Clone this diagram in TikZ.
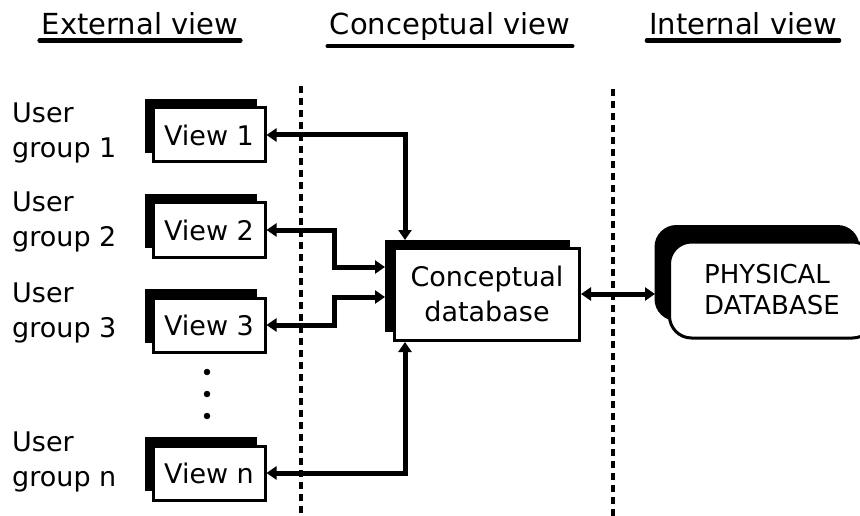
\documentclass[tikz,border=0pt]{standalone}
\usepackage{fontspec}
\setmainfont{DejaVu Sans}
\usetikzlibrary{arrows.meta,shadows}

\tikzset{
    viewbox/.style={draw, line width=3pt, fill=white, inner sep=0pt,
        minimum width=112pt, minimum height=54pt,
        font=\fontsize{27}{34}\selectfont,
        general shadow={fill=black, shadow xshift=-8pt, shadow yshift=9pt}},
    conbox/.style={draw, line width=3pt, fill=white, inner sep=0pt,
        minimum width=185pt, minimum height=92pt, align=center,
        font=\fontsize{27}{35}\selectfont,
        general shadow={fill=black, shadow xshift=-10pt, shadow yshift=8pt}},
    physbox/.style={draw, line width=3pt, fill=white, inner sep=0pt,
        rounded corners=22pt, minimum width=205pt, minimum height=96pt,
        align=left, font=\fontsize{26}{31}\selectfont,
        general shadow={fill=black, shadow xshift=-15pt, shadow yshift=17pt}},
    grouplabel/.style={anchor=west, inner sep=0pt, align=left,
        font=\fontsize{27}{35}\selectfont},
    heading/.style={anchor=base, inner xsep=2pt, inner ysep=5pt,
        font=\fontsize{29}{34}\selectfont},
    uline/.style={line width=4.5pt, line cap=round},
    divider/.style={line width=3.5pt, dash pattern=on 7pt off 5pt},
    conn/.style={line width=5pt, >={Triangle[length=10pt,width=13pt]}, <->}
}

\begin{document}
\begin{tikzpicture}[x=1pt, y=-1pt]
        \fill[white] (0,0) rectangle (860,516);
        \useasboundingbox (0,0) rectangle (860,516);

        % headings
        \node[heading] (hext) at (140,35) {External view};
        \node[heading] (hcon) at (450,35) {Conceptual view};
        \node[heading] (hint) at (743,35) {Internal view};
        \draw[uline] (hext.south west) -- (hext.south east);
        \draw[uline] (hcon.south west) -- (hcon.south east);
        \draw[uline] (hint.south west) -- (hint.south east);

        % dividers
        \coordinate (D1) at (301,86);
        \coordinate (D2) at (301,520);
        \coordinate (D3) at (613,89);
        \coordinate (D4) at (613,520);
        \draw[divider] (D1) -- (D2);
        \draw[divider] (D3) -- (D4);

        % user groups
        \node[grouplabel] (g1) at (12,133) {User\\group 1};
        \node[grouplabel] (g2) at (12,222) {User\\group 2};
        \node[grouplabel] (g3) at (12,313) {User\\group 3};
        \node[grouplabel] (gn) at (12,462) {User\\group n};

        % views
        \node[viewbox] (v1) at (209,135) {View 1};
        \node[viewbox] (v2) at (209,230) {View 2};
        \node[viewbox] (v3) at (209,325) {View 3};
        \node[viewbox] (vn) at (209,473) {View n};

        \filldraw (207,372) circle (3pt);
        \filldraw (207,394) circle (3pt);
        \filldraw (207,416) circle (3pt);

        % databases
        \node[conbox] (concept) at (487,294) {Conceptual\\database};
        \node[physbox] (phys) at (772,290) {PHYSICAL\\DATABASE};

        \coordinate (cT) at (405,240);
        \coordinate (cB) at (405,342);
        \coordinate (cL1) at (385,267);
        \coordinate (cL2) at (385,297);
        \coordinate (pL) at (655,294);

        % mappings
        \draw[conn] (v1.east) -| (cT);
        \draw[conn] (v2.east) -- ++(68,0) |- (cL1);
        \draw[conn] (v3.east) -- ++(68,0) |- (cL2);
        \draw[conn] (vn.east) -| (cB);
        \draw[conn] (concept.east) -- (pL);
    \end{tikzpicture}
\end{document}
